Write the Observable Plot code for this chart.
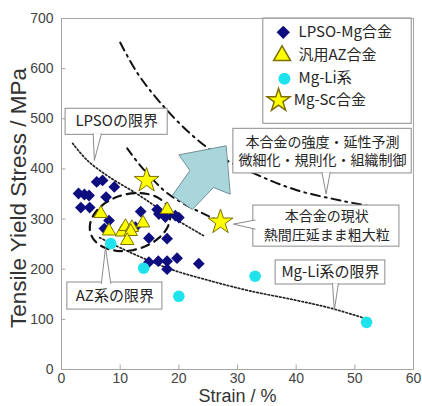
<!DOCTYPE html>
<html><head><meta charset="utf-8">
<script src="https://cdn.jsdelivr.net/npm/d3@7"></script>
<script src="https://cdn.jsdelivr.net/npm/@observablehq/plot@0.6"></script>
<style>html,body{margin:0;padding:0;background:#fff}svg{display:block}</style>
</head><body><div id="chart"></div>
<script>
// ---- data (strain %, tensile yield stress MPa) ----
const lpsoMg = [[6.0,374],[7.0,377],[9.0,364],[2.9,351],[3.9,349],[4.7,347],[7.6,344],[3.3,323],[4.8,323],[8.1,297],[7.3,281],[13.5,315],[16.3,319],[16.6,310],[17.7,304],[19.4,307],[20.0,303],[12.6,284],[14.9,262],[18.0,261],[14.9,214],[16.5,216],[18.0,216],[19.7,222],[23.4,211],[18.0,200]];
const azAlloy = [[6.7,311],[8.1,276],[10.3,274],[10.9,285],[12.0,283],[11.8,275],[11.2,257],[13.9,292],[18.0,319]];
const mgLi = [[8.4,251],[14.0,202],[20.0,146],[33.0,186],[52.0,94]];
const mgSc = [[14.5,377],[27.1,294]];
const lpsoLimit = [[1.9,451],[4.4,417],[8,385],[12.9,350],[18,310],[24.2,267]];
const mgLiLimit = [[6.5,263],[8.4,252],[12,232],[18.6,200],[25,178],[32,157],[40,138],[46,122],[52,101]];
const predictCurve = [[10,652],[13,590],[17,530],[22,470],[27,425],[33,390],[40,358],[48,336],[57,316]];
const currentCurve = [[11.2,441],[13.2,410],[15.5,380],[18,352],[21.4,327],[25.4,304],[27.5,292]];
const arrowShape = [[28.0,446],[20.0,428],[21.9,397],[18.9,347],[22.3,319],[25.9,363],[28.7,350]];
const azEllipse = {cx:11.68, cy:294, rxPx:41, ryPx:28, angleDeg:-15};
const xTicks = [0,10,20,30,40,50,60];
const yTicks = [0,100,200,300,400,500,600,700];
const legendNames = ["LPSO-Mg合金","汎用AZ合金","Mg-Li系","Mg-Sc合金"];
const legendY = [672.5,626,580,536.5];
// callouts: box [x1,x2,y1,y2], text lines [text,x,y], pointer [base1, tip, base2]
const callouts = [
  {box:[0.7,18.1,468,520], size:15, lines:[["LPSOの限界",9.4,494.5]], ptr:[[5.4,470],[5.6,417],[6.8,470]]},
  {box:[29.3,59.7,391,480], size:14, lines:[["本合金の強度・延性予測",44.5,452],["微細化・規則化・組織制御",44.5,416]], ptr:[[44.4,393],[45.1,350],[45.8,393]]},
  {box:[32.7,57.6,245,327], size:14, lines:[["本合金の現状",45.2,305],["熱間圧延まま粗大粒",45.2,267]], ptr:[[33.0,298],[29.3,290],[33.0,280]]},
  {box:[36.5,55.2,169.5,217.5], size:15, lines:[["Mg-Li系の限界",45.85,193.5]], ptr:[[46.2,171.5],[46.5,118],[47.2,171.5]]},
  {box:[1.0,17.2,119.5,173.5], size:15, lines:[["AZ系の限界",9.1,146.5]], ptr:[[6.8,171.5],[7.5,243],[8.4,171.5]]}
];

const W=422, H=406, ML=61, MR=9, MT=18, MB=37;
const kx = 60/(W-ML-MR), ky = 700/(H-MT-MB);
// ellipse outline in data units (pixel-shaped, converted with the scale factors)
const ellPts = d3.range(0, 361, 6).map(t => {
  const T = t*Math.PI/180, a = azEllipse.angleDeg*Math.PI/180;
  const px = azEllipse.rxPx*Math.cos(T)*Math.cos(a) - azEllipse.ryPx*Math.sin(T)*Math.sin(a);
  const py = azEllipse.rxPx*Math.cos(T)*Math.sin(a) + azEllipse.ryPx*Math.sin(T)*Math.cos(a);
  return [azEllipse.cx + px*kx, azEllipse.cy - py*ky];
});

const CJK = "'Noto Sans CJK JP','Noto Sans',sans-serif";
const LAT = "'Liberation Sans',Arial,sans-serif";
const X = d=>d[0], Y = d=>d[1];
const navy="#0d0d80", yel="#ffff00", olive="#7d7000", cyan="#1fe3ec", boxStroke="#8c8c8c";

const marks = [
  Plot.ruleX(xTicks, {y1:0, y2:9, stroke:"#a6a6a6"}),
  Plot.ruleY(yTicks, {x1:0, x2:0.75, stroke:"#a6a6a6"}),
  Plot.line(lpsoLimit, {x:X, y:Y, stroke:"#222", strokeWidth:1.7, strokeDasharray:"1.6 2.2", curve:"catmull-rom"}),
  Plot.line(mgLiLimit, {x:X, y:Y, stroke:"#222", strokeWidth:1.7, strokeDasharray:"1.6 2.2", curve:"catmull-rom"}),
  Plot.line(predictCurve, {x:X, y:Y, stroke:"#111", strokeWidth:2, strokeDasharray:"9 5 2 5", curve:"catmull-rom"}),
  Plot.line(currentCurve, {x:X, y:Y, stroke:"#111", strokeWidth:2, strokeDasharray:"8 5 2 5", curve:"catmull-rom"}),
  Plot.line(ellPts, {x:X, y:Y, stroke:"#111", strokeWidth:2.2, strokeDasharray:"8 6", curve:"linear-closed"}),
  Plot.line(arrowShape, {x:X, y:Y, fill:"#a9d6da", stroke:"#6f8f99", strokeWidth:1, curve:"linear-closed"}),
  Plot.dot(lpsoMg, {x:X, y:Y, symbol:"diamond2", r:5.3, fill:navy}),
  Plot.dot(azAlloy, {x:X, y:Y, symbol:"triangle", r:5, fill:yel, stroke:olive, strokeWidth:1}),
  Plot.dot(mgLi, {x:X, y:Y, r:5.8, fill:cyan}),
  Plot.dot(mgSc, {x:X, y:Y, symbol:"star", r:7.8, fill:yel, stroke:olive, strokeWidth:1}),
];
for (const c of callouts) {
  marks.push(Plot.rect([c.box], {x1:d=>d[0], x2:d=>d[1], y1:d=>d[2], y2:d=>d[3], fill:"white", stroke:boxStroke, strokeWidth:1}));
  marks.push(Plot.line(c.ptr, {x:X, y:Y, fill:"white", stroke:boxStroke, strokeWidth:1}));
  marks.push(Plot.text(c.lines, {x:d=>d[1], y:d=>d[2], text:d=>d[0], fontSize:c.size, fontFamily:CJK, fill:"#262626"}));
}
// legend
marks.push(Plot.rect([[34.4,59.7,490,700]], {x1:d=>d[0], x2:d=>d[1], y1:d=>d[2], y2:d=>d[3], fill:"white", stroke:boxStroke}));
marks.push(Plot.dot([[37.8,legendY[0]]], {x:X, y:Y, symbol:"diamond2", r:6, fill:navy}));
marks.push(Plot.dot([[37.6,legendY[1]]], {x:X, y:Y, symbol:"triangle", r:6.3, fill:yel, stroke:olive}));
marks.push(Plot.dot([[38.0,legendY[2]]], {x:X, y:Y, r:6, fill:cyan}));
marks.push(Plot.dot([[37.0,legendY[3]]], {x:X, y:Y, symbol:"star", r:7.2, fill:yel, stroke:olive}));
marks.push(Plot.text(legendNames, {x:(d,i)=> i===3 ? 39.6 : 40.4, y:(d,i)=>legendY[i], text:d=>d, textAnchor:"start", fontSize:15, fontFamily:CJK, fill:"#262626"}));
// frame & axis titles
marks.push(Plot.frame({stroke:"#a6a6a6"}));
marks.push(Plot.text(["Tensile Yield Stress / MPa"], {frameAnchor:"left", text:d=>d, rotate:-90, textAnchor:"middle", lineAnchor:"middle", dx:-43, dy:4, fontSize:22.5, fontFamily:LAT, fill:"#333"}));
marks.push(Plot.text(["Strain / %"], {frameAnchor:"bottom", text:d=>d, textAnchor:"middle", lineAnchor:"middle", dy:26.5, fontSize:18, fontFamily:LAT, fill:"#333"}));

const chart = Plot.plot({
  width:W, height:H, marginLeft:ML, marginRight:MR, marginTop:MT, marginBottom:MB,
  x:{domain:[0,60], ticks:6, tickSize:0, tickPadding:4, label:null},
  y:{domain:[0,700], ticks:7, tickSize:0, tickPadding:8, label:null},
  style:{fontFamily:LAT, fontSize:"14px", color:"#444", background:"white", overflow:"visible"},
  marks
});
document.getElementById("chart").append(chart);
</script></body></html>
